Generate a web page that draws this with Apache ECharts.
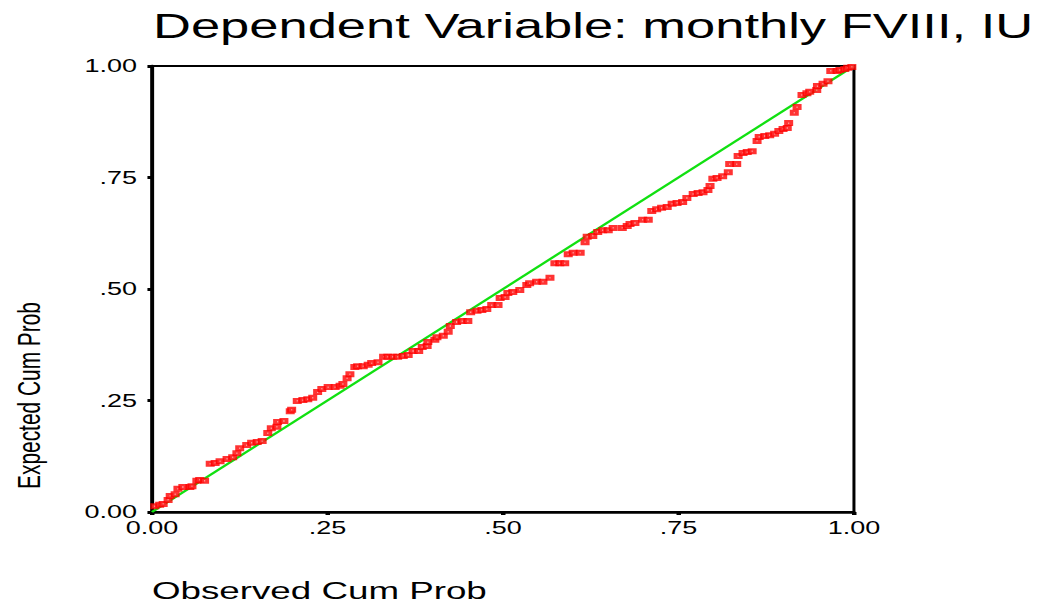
<!DOCTYPE html>
<html>
<head>
<meta charset="utf-8">
<script src="https://cdn.jsdelivr.net/npm/echarts@6/dist/echarts.min.js"></script>
<style>
  html, body { margin: 0; padding: 0; background: #fff; overflow: hidden; }
  /* SPSS output was stretched sideways, so draw narrow and widen it */
  #chart { width: 696px; height: 606px; transform: scaleX(1.5); transform-origin: 0 0; }
</style>
</head>
<body>
<div id="chart"></div>
<script>
const titleText = 'Dependent Variable: monthly FVIII, IU'
const tickLabels = ['0.00', '.25', '.50', '.75', '1.00']

// observed cum prob (x) / expected cum prob (y)
const obsCum = [
  0.004, 0.011, 0.016, 0.023, 0.026, 0.033, 0.037, 0.044, 0.054, 0.057,
  0.064, 0.068, 0.075, 0.083, 0.090, 0.097, 0.107, 0.115, 0.121, 0.125,
  0.135, 0.142, 0.150, 0.157, 0.165, 0.170, 0.178, 0.179, 0.188, 0.197,
  0.199, 0.207, 0.215, 0.222, 0.229, 0.236, 0.242, 0.251, 0.261, 0.268,
  0.272, 0.278, 0.282, 0.289, 0.293, 0.301, 0.308, 0.313, 0.322, 0.330,
  0.336, 0.343, 0.350, 0.358, 0.365, 0.372, 0.380, 0.385, 0.392, 0.393,
  0.403, 0.406, 0.415, 0.422, 0.425, 0.434, 0.442, 0.450, 0.454, 0.463,
  0.470, 0.477, 0.484, 0.493, 0.496, 0.503, 0.507, 0.514, 0.524, 0.534,
  0.538, 0.548, 0.557, 0.567, 0.574, 0.581, 0.588, 0.593, 0.600, 0.610,
  0.617, 0.620, 0.628, 0.635, 0.642, 0.650, 0.657, 0.670, 0.677, 0.681,
  0.688, 0.699, 0.707, 0.712, 0.719, 0.726, 0.734, 0.741, 0.748, 0.756,
  0.762, 0.771, 0.778, 0.785, 0.792, 0.795, 0.799, 0.805, 0.813, 0.821,
  0.823, 0.833, 0.835, 0.842, 0.848, 0.855, 0.862, 0.865, 0.873, 0.880,
  0.887, 0.893, 0.899, 0.905, 0.907, 0.915, 0.919, 0.926, 0.933, 0.937,
  0.947, 0.948, 0.956, 0.963, 0.967, 0.976, 0.980, 0.987, 0.991, 0.997
]
const expCum = [
  0.013, 0.016, 0.018, 0.027, 0.036, 0.040, 0.052, 0.056, 0.056, 0.058,
  0.070, 0.072, 0.070, 0.108, 0.110, 0.114, 0.119, 0.123, 0.132, 0.143,
  0.150, 0.155, 0.157, 0.159, 0.177, 0.188, 0.191, 0.202, 0.204, 0.226,
  0.229, 0.249, 0.251, 0.253, 0.256, 0.269, 0.276, 0.280, 0.280, 0.283,
  0.287, 0.300, 0.309, 0.325, 0.327, 0.327, 0.330, 0.334, 0.336, 0.348,
  0.348, 0.348, 0.348, 0.350, 0.352, 0.361, 0.361, 0.370, 0.372, 0.381,
  0.386, 0.392, 0.395, 0.404, 0.417, 0.426, 0.428, 0.428, 0.448, 0.451,
  0.453, 0.455, 0.464, 0.464, 0.480, 0.482, 0.491, 0.493, 0.498, 0.509,
  0.513, 0.516, 0.516, 0.525, 0.558, 0.558, 0.558, 0.578, 0.581, 0.581,
  0.605, 0.617, 0.619, 0.628, 0.632, 0.632, 0.637, 0.637, 0.641, 0.646,
  0.648, 0.655, 0.655, 0.675, 0.679, 0.682, 0.684, 0.691, 0.693, 0.695,
  0.704, 0.713, 0.715, 0.717, 0.722, 0.731, 0.747, 0.749, 0.753, 0.762,
  0.780, 0.780, 0.798, 0.805, 0.807, 0.809, 0.832, 0.841, 0.843, 0.845,
  0.848, 0.854, 0.859, 0.861, 0.872, 0.895, 0.908, 0.935, 0.939, 0.942,
  0.946, 0.955, 0.960, 0.966, 0.989, 0.989, 0.991, 0.993, 0.996, 0.998
]
const refLine = [[0, 0], [1, 1]]

const points = obsCum.map((x, i) => [x, expCum[i]])

function tickText(v) {
  return tickLabels[Math.round(v * 4)]
}

const chart = echarts.init(document.getElementById('chart'), null, { renderer: 'svg' })

const labelFont = 'Liberation Sans, Arial, sans-serif'

chart.setOption({
  backgroundColor: '#fff',
  animation: false,
  title: {
    text: titleText,
    left: 102,
    top: 8.5,
    padding: 0,
    textStyle: { fontFamily: labelFont, fontSize: 35, fontWeight: 'normal', color: '#000' }
  },
  grid: {
    left: 101.3,
    right: 126.7,
    top: 66,
    bottom: 94,
    show: true,
    borderColor: '#000',
    borderWidth: 2
  },
  xAxis: {
    type: 'value',
    min: 0,
    max: 1,
    interval: 0.25,
    name: 'Observed Cum Prob',
    nameLocation: 'start',
    nameGap: 0,
    nameTextStyle: {
      fontFamily: labelFont, fontSize: 24.5, color: '#000',
      align: 'left', verticalAlign: 'top', padding: [66, 0, 0, 0]
    },
    splitLine: { show: false },
    axisLine: { lineStyle: { color: '#000', width: 2.5 } },
    axisTick: { length: 3, lineStyle: { color: '#000', width: 3 } },
    axisLabel: {
      margin: 7,
      fontFamily: labelFont, fontSize: 18, color: '#000',
      formatter: tickText
    }
  },
  yAxis: {
    type: 'value',
    min: 0,
    max: 1,
    interval: 0.25,
    name: 'Expected Cum Prob',
    nameLocation: 'middle',
    nameGap: 71,
    nameTextStyle: {
      fontFamily: labelFont, fontSize: 20.9, color: '#000',
      padding: [0, 213, 0, 0]
    },
    splitLine: { show: false },
    axisLine: { lineStyle: { color: '#000', width: 2.5 } },
    axisTick: { length: 3, lineStyle: { color: '#000', width: 3 } },
    axisLabel: {
      margin: 10,
      fontFamily: labelFont, fontSize: 18, color: '#000',
      formatter: tickText
    }
  },
  series: [
    {
      type: 'line',
      data: refLine,
      symbol: 'none',
      lineStyle: { color: '#11e011', width: 2 },
      z: 2
    },
    {
      type: 'scatter',
      data: points,
      symbol: 'rect',
      symbolSize: [3.4, 3.4],
      itemStyle: { color: '#fff', borderColor: '#ff0000', borderWidth: 2.6 },
      z: 3
    }
  ]
})
</script>
</body>
</html>
